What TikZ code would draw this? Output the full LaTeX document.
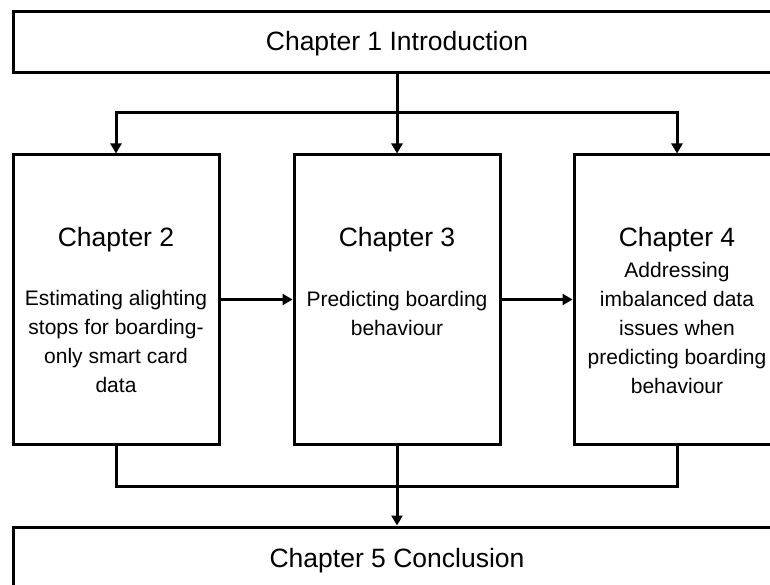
\documentclass[tikz,border=0pt]{standalone}
\usepackage{fontspec}
\setmainfont{Liberation Sans}
\usetikzlibrary{arrows.meta}

\tikzset{
  chapbox/.style={draw=black, line width=3pt, fill=none, inner sep=0pt},
  headtext/.style={font=\fontsize{26.5}{30}\selectfont, inner sep=0pt},
  bodytext/.style={font=\fontsize{21}{29}\selectfont, align=center, inner sep=0pt},
  link/.style={draw=black, line width=3pt},
  flow/.style={link, -{Triangle[length=10pt,width=11pt]}}
}

\begin{document}
\begin{tikzpicture}[x=1pt,y=-1pt]
  \useasboundingbox (0,0) rectangle (770,585);
  \clip (0,0) rectangle (770,585);

  % chapter frames
  \node[chapbox, minimum width=768pt, minimum height=61pt] (c1) at (397,42.5) {};
  \node[chapbox, minimum width=206pt, minimum height=289pt] (c2) at (116,299.5) {};
  \node[chapbox, minimum width=206pt, minimum height=289pt] (c3) at (397,299.5) {};
  \node[chapbox, minimum width=206pt, minimum height=289pt] (c4) at (677,299.5) {};
  \node[chapbox, minimum width=768pt, minimum height=66pt] (c5) at (397,560) {};

  % titles and descriptions
  \node[headtext] (t1) at (397,44) {Chapter 1 Introduction};
  \node[headtext] (h2) at (116,240) {Chapter 2};
  \node[headtext] (h3) at (397,240) {Chapter 3};
  \node[headtext] (h4) at (677,240) {Chapter 4};
  \node[bodytext] (b2) at (116,341.5) {Estimating alighting\\stops for boarding-\\only smart card\\data};
  \node[bodytext] (b3) at (397,313) {Predicting boarding\\behaviour};
  \node[bodytext] (b4) at (677,327.5) {Addressing\\imbalanced data\\issues when\\predicting boarding\\behaviour};
  \node[headtext] (t5) at (397,561) {Chapter 5 Conclusion};

  % branching from the introduction
  \coordinate (split) at (397,113);
  \draw[link] (c1.south) -- (split);
  \draw[flow] (split) -- (c3.north);
  \draw[flow] (split) -| (c2.north);
  \draw[flow] (split) -| (c4.north);

  % sequence between the middle chapters
  \draw[flow] (c2.east) -- (c3.west);
  \draw[flow] (c3.east) -- (c4.west);

  % merging into the conclusion
  \coordinate (merge) at (397,486);
  \draw[link] (c2.south) |- (merge);
  \draw[link] (c4.south) |- (merge);
  \draw[link] (c3.south) -- (merge);
  \draw[flow] (merge) -- (c5.north);
\end{tikzpicture}
\end{document}
